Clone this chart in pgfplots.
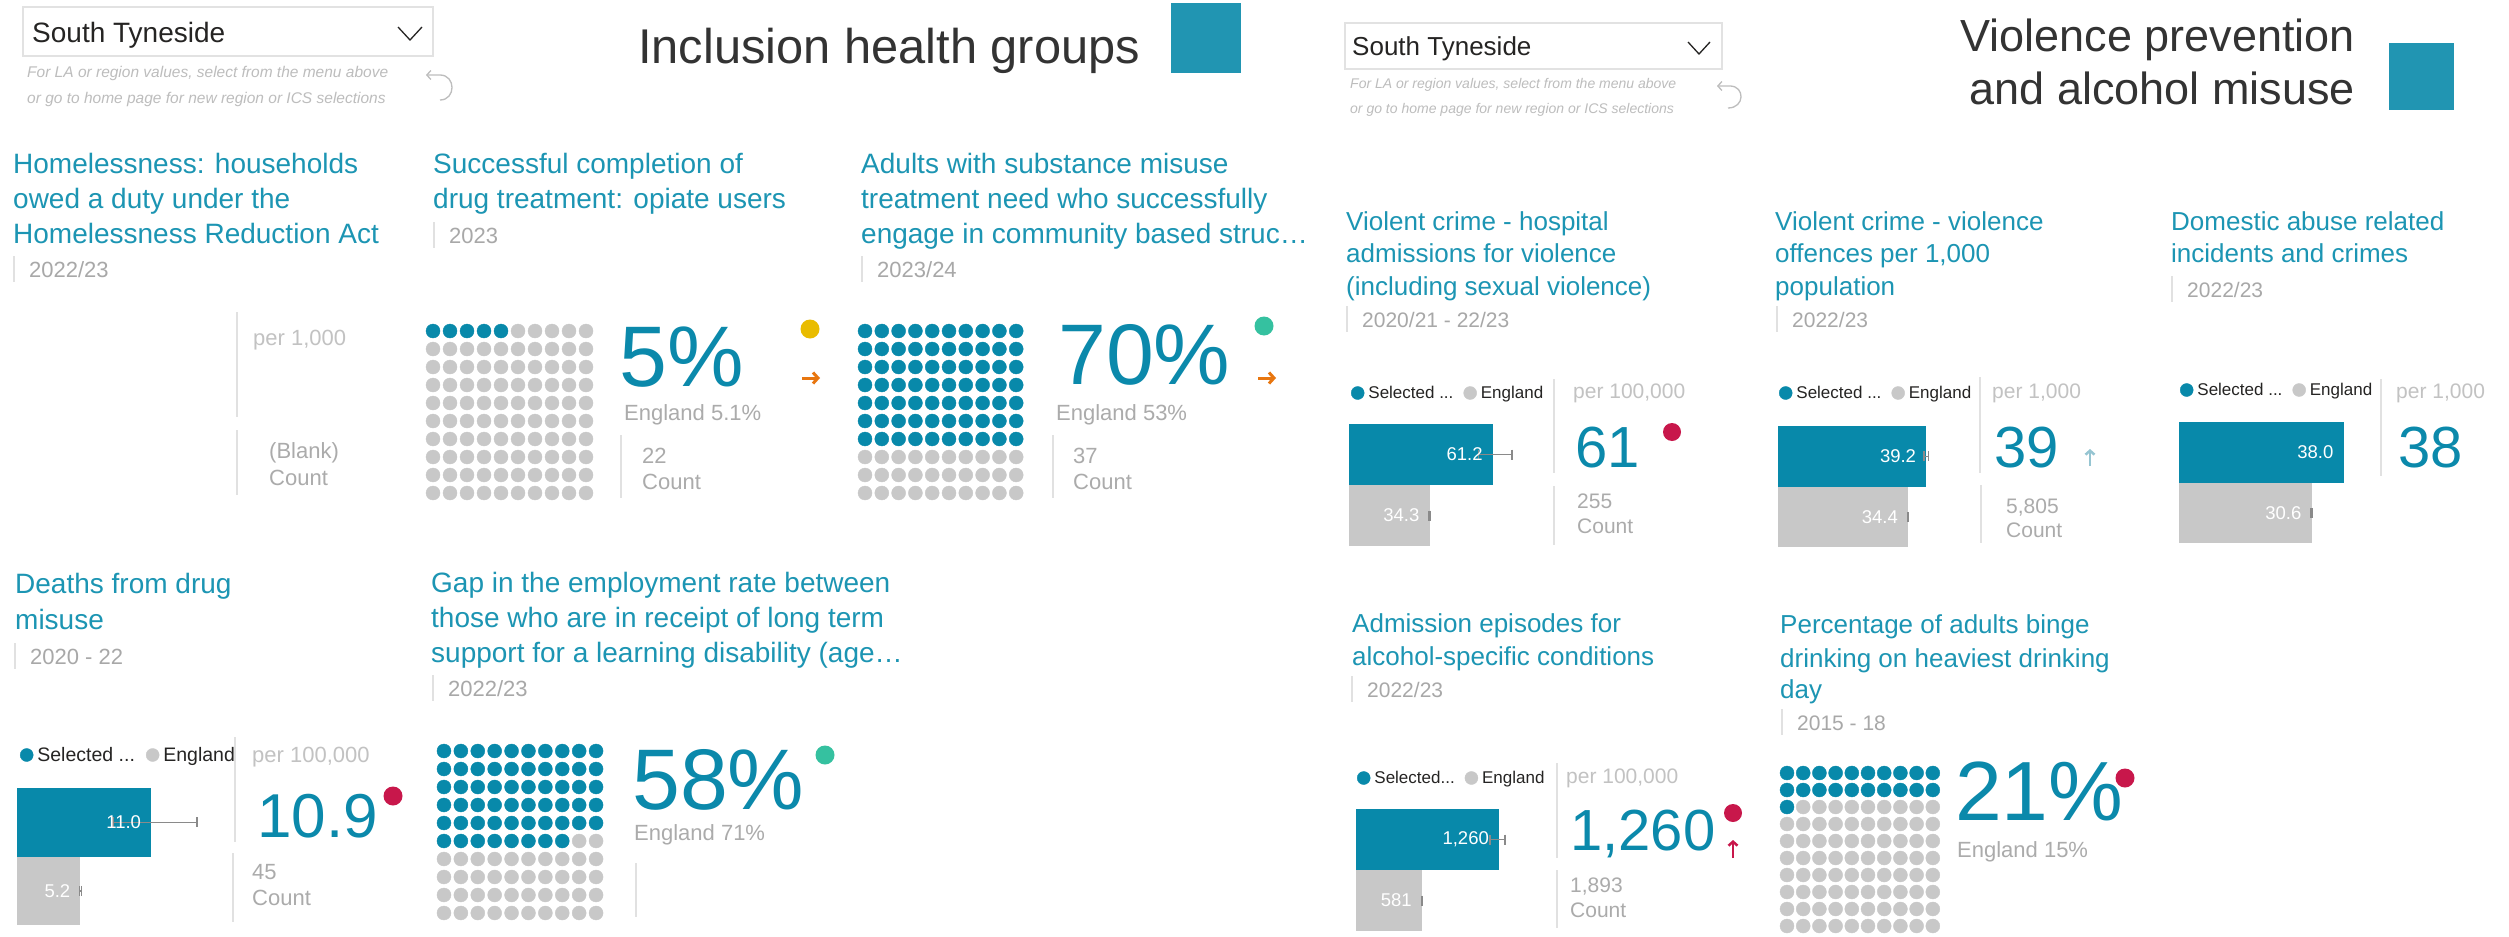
\documentclass[border=0pt]{standalone}
\usepackage{fontspec}
\setmainfont{Liberation Sans}
\usepackage{pgfplots}
\pgfplotsset{compat=1.18}
\usetikzlibrary{arrows.meta}

\definecolor{ttl}{HTML}{1C95B3}
\definecolor{selc}{HTML}{0889AA}
\definecolor{engc}{HTML}{C8C8C8}
\definecolor{bignum}{HTML}{0B89AB}
\definecolor{dtc}{HTML}{A8A8A8}
\definecolor{perc}{HTML}{C2C2C2}
\definecolor{cntc}{HTML}{ABABAB}
\definecolor{divc}{HTML}{E1E1E1}
\definecolor{hintc}{HTML}{BDBDBD}
\definecolor{boxc}{HTML}{E2E2E2}
\definecolor{darkt}{HTML}{333333}
\definecolor{legt}{HTML}{252423}
\definecolor{sq}{HTML}{2195B2}
\definecolor{redc}{HTML}{C8174B}
\definecolor{yelc}{HTML}{E9BC00}
\definecolor{grnc}{HTML}{35C1A0}
\definecolor{orac}{HTML}{E8760F}
\definecolor{upc}{HTML}{96C5D2}
\definecolor{ebc}{HTML}{8A8A8A}

\newcommand\fs[1]{\fontsize{#1}{#1}\selectfont}

\pgfplotsset{
  waffle/.style={hide axis, scale only axis, anchor=north west,
    xmin=-0.5, xmax=9.5, ymin=-0.5, ymax=9.5, y dir=reverse, clip=false},
  wsel/.style={only marks, mark=*, mark size=7pt, color=selc},
  weng/.style={only marks, mark=*, mark size=7pt, color=engc},
  barax/.style={hide axis, scale only axis, anchor=north west, width=200pt,
    xmin=0, ymin=0, ymax=2, clip=false, legend columns=-1,
    legend style={draw=none, fill=none, inner sep=0pt, outer sep=0pt,
      at={(0,1)}, anchor=west, font=\fs{#1}, legend cell align=left,
      /tikz/every odd column/.style={column sep=3pt},
      /tikz/every even column/.style={column sep=10pt},
      nodes={inner sep=1pt, text=legt}}},
  rleg/.style={legend style={/tikz/every even column/.style={column sep=9pt}}},
  selbar/.style={xbar, bar shift=0pt, bar width=1, fill=selc, draw=none},
  engbar/.style={xbar, bar shift=0pt, bar width=1, fill=engc, draw=none},
  ebar/.style={error bars/.cd, x dir=both, x explicit, error mark=|,
    error bar style={draw=ebc, line width=1.5pt},
    error mark options={draw=ebc, line width=1.3pt, mark size=5pt}},
}
\tikzset{
  blab/.style={anchor=east, xshift=-10pt, inner sep=0pt, text=white, font=\fs{18.5}},
  tx/.style={anchor=base west, inner sep=0pt},
}
\newcommand\leg[1]{%
  \addlegendimage{legend image code/.code={\fill[selc] (0pt,0pt) circle (6.5pt);}}
  \addlegendentry{#1}
  \addlegendimage{legend image code/.code={\fill[engc] (0pt,0pt) circle (6.5pt);}}
  \addlegendentry{England}}
% title line, date line with its bar
\newcommand\ttl[4]{\node[tx, text=ttl, font=\fs{#1}] at (#2,#3) {#4};}
\newcommand\dte[4]{\draw[divc, line width=2pt] (#2,#3-21) -- (#2,#3+5);
  \node[tx, text=dtc, font=\fs{#1}] at (#2+15,#3) {#4};}

\begin{document}
\begin{tikzpicture}
\fill[white] (0pt,0pt) rectangle (2509pt,-937pt);

\begin{scope}[x=1pt, y=-1pt]
% ---- left header
\draw[boxc, line width=1.5pt] (23,7) rectangle (433,56);
\node[tx, text=legt, font=\fs{28}] at (32,42) {South Tyneside};
\draw[legt, line width=1.3pt] (398,27) -- (410,40) -- (422,27);
\node[tx, text=hintc, font=\fs{15.5}\itshape] at (27,77) {For LA or region values, select from the menu above};
\node[tx, text=hintc, font=\fs{15.5}\itshape] at (27,103) {or go to home page for new region or ICS selections};
\draw[hintc, line width=1.3pt, -{Straight Barb[length=4pt,width=9pt]}] (440,100) .. controls (456,100) and (456,75) .. (440,75) -- (426,75);
\node[tx, text=darkt, font=\fs{48.8}] at (638,63) {Inclusion health groups};
\fill[sq] (1171,3) rectangle (1241,73);

% ---- right header
\draw[boxc, line width=1.5pt] (1345,23) rectangle (1722,69);
\node[tx, text=legt, font=\fs{26}] at (1352,55) {South Tyneside};
\draw[legt, line width=1.3pt] (1688,42) -- (1699,54) -- (1710,42);
\node[tx, text=hintc, font=\fs{14}\itshape] at (1350,88) {For LA or region values, select from the menu above};
\node[tx, text=hintc, font=\fs{14}\itshape] at (1350,113) {or go to home page for new region or ICS selections};
\draw[hintc, line width=1.3pt, -{Straight Barb[length=4pt,width=9pt]}] (1728,108) .. controls (1745,108) and (1745,86) .. (1730,86) -- (1717,86);
\node[anchor=base east, inner sep=0pt, text=darkt, font=\fs{45}] at (2355,51) {Violence prevention};
\node[anchor=base east, inner sep=0pt, text=darkt, font=\fs{45}] at (2355,104) {and alcohol misuse};
\fill[sq] (2389,43) rectangle (2454,110);

% ---- homelessness
\ttl{28}{13}{173}{Homelessness: households}
\ttl{28}{13}{208}{owed a duty under the}
\ttl{28}{13}{243}{Homelessness Reduction Act}
\dte{22}{14}{277}{2022/23}
\draw[divc, line width=2pt] (237,312) -- (237,417);
\draw[divc, line width=2pt] (237,430) -- (237,495);
\node[tx, text=perc, font=\fs{22}] at (253,345) {per 1,000};
\node[tx, text=cntc, font=\fs{22}] at (269,458) {(Blank)};
\node[tx, text=cntc, font=\fs{22}] at (269,485) {Count};

% ---- opiate users
\ttl{28}{433}{173}{Successful completion of}
\ttl{28}{433}{208}{drug treatment: opiate users}
\dte{22}{434}{243}{2023}
\node[tx, text=bignum, font=\fs{86}] at (619,386) {5\%};
\node[tx, text=cntc, font=\fs{22}] at (624,420) {England 5.1\%};
\draw[divc, line width=2pt] (621,435) -- (621,498);
\node[tx, text=cntc, font=\fs{22}] at (642,463) {22};
\node[tx, text=cntc, font=\fs{22}] at (642,489) {Count};
\fill[yelc] (810,329) circle (9.5pt);
\draw[orac, line width=3pt, -{Straight Barb[length=5pt,width=11pt]}] (802,378) -- (820,378);

% ---- community based treatment
\ttl{28}{861}{173}{Adults with substance misuse}
\ttl{28}{861}{208}{treatment need who successfully}
\ttl{28}{861}{243}{engage in community based struc…}
\dte{22}{862}{277}{2023/24}
\node[tx, text=bignum, font=\fs{86}] at (1058,384) {70\%};
\node[tx, text=cntc, font=\fs{22}] at (1056,420) {England 53\%};
\draw[divc, line width=2pt] (1053,435) -- (1053,498);
\node[tx, text=cntc, font=\fs{22}] at (1073,463) {37};
\node[tx, text=cntc, font=\fs{22}] at (1073,489) {Count};
\fill[grnc] (1264,326) circle (9.5pt);
\draw[orac, line width=3pt, -{Straight Barb[length=5pt,width=11pt]}] (1258,378) -- (1276,378);

% ---- deaths from drug misuse
\ttl{28}{15}{593}{Deaths from drug}
\ttl{28}{15}{629}{misuse}
\dte{22}{15}{664}{2020 - 22}
\draw[divc, line width=2pt] (235,737) -- (235,842);
\draw[divc, line width=2pt] (233,853) -- (233,922);
\node[tx, text=perc, font=\fs{22}] at (252,762) {per 100,000};
\node[tx, text=bignum, font=\fs{62}] at (257,837) {10.9};
\fill[redc] (393,796) circle (9.5pt);
\node[tx, text=cntc, font=\fs{22}] at (252,879) {45};
\node[tx, text=cntc, font=\fs{22}] at (252,905) {Count};

% ---- employment gap
\ttl{28}{431}{592}{Gap in the employment rate between}
\ttl{28}{431}{627}{those who are in receipt of long term}
\ttl{28}{431}{662}{support for a learning disability (age…}
\dte{22}{433}{696}{2022/23}
\node[tx, text=bignum, font=\fs{86}] at (632,809) {58\%};
\node[tx, text=cntc, font=\fs{22}] at (634,840) {England 71\%};
\draw[divc, line width=2pt] (636,863) -- (636,917);
\fill[grnc] (825,755) circle (9.5pt);

% ---- violent crime hospital admissions
\ttl{26}{1346}{230}{Violent crime - hospital}
\ttl{26}{1346}{262}{admissions for violence}
\ttl{26}{1346}{295}{(including sexual violence)}
\dte{21}{1347}{327}{2020/21 - 22/23}
\draw[divc, line width=2pt] (1554,379) -- (1554,473);
\draw[divc, line width=2pt] (1554,486) -- (1554,545);
\node[tx, text=perc, font=\fs{21}] at (1573,398) {per 100,000};
\node[tx, text=bignum, font=\fs{58}] at (1575,467) {61};
\fill[redc] (1672,432) circle (9pt);
\node[tx, text=cntc, font=\fs{21}] at (1577,508) {255};
\node[tx, text=cntc, font=\fs{21}] at (1577,533) {Count};

% ---- violence offences
\ttl{26}{1775}{230}{Violent crime - violence}
\ttl{26}{1775}{262}{offences per 1,000}
\ttl{26}{1775}{295}{population}
\dte{21}{1777}{327}{2022/23}
\draw[divc, line width=2pt] (1980,377) -- (1980,473);
\draw[divc, line width=2pt] (1981,485) -- (1981,543);
\node[tx, text=perc, font=\fs{21}] at (1992,398) {per 1,000};
\node[tx, text=bignum, font=\fs{58}] at (1994,467) {39};
\draw[upc, line width=2.5pt, -{Straight Barb[length=4pt,width=9pt]}] (2090,466) -- (2090,449);
\node[tx, text=cntc, font=\fs{21}] at (2006,513) {5,805};
\node[tx, text=cntc, font=\fs{21}] at (2006,537) {Count};

% ---- domestic abuse
\ttl{26}{2171}{230}{Domestic abuse related}
\ttl{26}{2171}{262}{incidents and crimes}
\dte{21}{2172}{297}{2022/23}
\draw[divc, line width=2pt] (2381,379) -- (2381,476);
\node[tx, text=perc, font=\fs{21}] at (2396,398) {per 1,000};
\node[tx, text=bignum, font=\fs{58}] at (2398,467) {38};

% ---- alcohol admissions
\ttl{26}{1352}{632}{Admission episodes for}
\ttl{26}{1352}{665}{alcohol-specific conditions}
\dte{21}{1352}{697}{2022/23}
\draw[divc, line width=2pt] (1557,763) -- (1557,858);
\draw[divc, line width=2pt] (1557,870) -- (1557,928);
\node[tx, text=perc, font=\fs{21}] at (1566,783) {per 100,000};
\node[tx, text=bignum, font=\fs{58}] at (1570,850) {1,260};
\fill[redc] (1733,813) circle (9pt);
\draw[redc, line width=2.5pt, -{Straight Barb[length=4pt,width=9pt]}] (1733,858) -- (1733,840);
\node[tx, text=cntc, font=\fs{21}] at (1570,892) {1,893};
\node[tx, text=cntc, font=\fs{21}] at (1570,917) {Count};

% ---- binge drinking
\ttl{26}{1780}{633}{Percentage of adults binge}
\ttl{26}{1780}{667}{drinking on heaviest drinking}
\ttl{26}{1780}{698}{day}
\dte{21}{1782}{730}{2015 - 18}
\node[tx, text=bignum, font=\fs{84}] at (1955,820) {21\%};
\node[tx, text=cntc, font=\fs{22}] at (1957,857) {England 15\%};
\fill[redc] (2125,778) circle (9.5pt);
\end{scope}

% ================= waffle charts =================
% opiate users 5%
\begin{axis}[waffle, at={(424.5pt,-322pt)}, width=170pt, height=180pt]
\addplot[wsel] coordinates {(0,0) (1,0) (2,0) (3,0) (4,0)};
\addplot[weng] coordinates {
(5,0) (6,0) (7,0) (8,0) (9,0)
(0,1) (1,1) (2,1) (3,1) (4,1) (5,1) (6,1) (7,1) (8,1) (9,1)
(0,2) (1,2) (2,2) (3,2) (4,2) (5,2) (6,2) (7,2) (8,2) (9,2)
(0,3) (1,3) (2,3) (3,3) (4,3) (5,3) (6,3) (7,3) (8,3) (9,3)
(0,4) (1,4) (2,4) (3,4) (4,4) (5,4) (6,4) (7,4) (8,4) (9,4)
(0,5) (1,5) (2,5) (3,5) (4,5) (5,5) (6,5) (7,5) (8,5) (9,5)
(0,6) (1,6) (2,6) (3,6) (4,6) (5,6) (6,6) (7,6) (8,6) (9,6)
(0,7) (1,7) (2,7) (3,7) (4,7) (5,7) (6,7) (7,7) (8,7) (9,7)
(0,8) (1,8) (2,8) (3,8) (4,8) (5,8) (6,8) (7,8) (8,8) (9,8)
(0,9) (1,9) (2,9) (3,9) (4,9) (5,9) (6,9) (7,9) (8,9) (9,9)};
\end{axis}

% community treatment 70%
\begin{axis}[waffle, at={(856.6pt,-322pt)}, width=168pt, height=180pt]
\addplot[wsel] coordinates {
(0,0) (1,0) (2,0) (3,0) (4,0) (5,0) (6,0) (7,0) (8,0) (9,0)
(0,1) (1,1) (2,1) (3,1) (4,1) (5,1) (6,1) (7,1) (8,1) (9,1)
(0,2) (1,2) (2,2) (3,2) (4,2) (5,2) (6,2) (7,2) (8,2) (9,2)
(0,3) (1,3) (2,3) (3,3) (4,3) (5,3) (6,3) (7,3) (8,3) (9,3)
(0,4) (1,4) (2,4) (3,4) (4,4) (5,4) (6,4) (7,4) (8,4) (9,4)
(0,5) (1,5) (2,5) (3,5) (4,5) (5,5) (6,5) (7,5) (8,5) (9,5)
(0,6) (1,6) (2,6) (3,6) (4,6) (5,6) (6,6) (7,6) (8,6) (9,6)};
\addplot[weng] coordinates {
(0,7) (1,7) (2,7) (3,7) (4,7) (5,7) (6,7) (7,7) (8,7) (9,7)
(0,8) (1,8) (2,8) (3,8) (4,8) (5,8) (6,8) (7,8) (8,8) (9,8)
(0,9) (1,9) (2,9) (3,9) (4,9) (5,9) (6,9) (7,9) (8,9) (9,9)};
\end{axis}

% employment gap 58%
\begin{axis}[waffle, at={(435.5pt,-742pt)}, width=169pt, height=180pt]
\addplot[wsel] coordinates {
(0,0) (1,0) (2,0) (3,0) (4,0) (5,0) (6,0) (7,0) (8,0) (9,0)
(0,1) (1,1) (2,1) (3,1) (4,1) (5,1) (6,1) (7,1) (8,1) (9,1)
(0,2) (1,2) (2,2) (3,2) (4,2) (5,2) (6,2) (7,2) (8,2) (9,2)
(0,3) (1,3) (2,3) (3,3) (4,3) (5,3) (6,3) (7,3) (8,3) (9,3)
(0,4) (1,4) (2,4) (3,4) (4,4) (5,4) (6,4) (7,4) (8,4) (9,4)
(0,5) (1,5) (2,5) (3,5) (4,5) (5,5) (6,5) (7,5)};
\addplot[weng] coordinates {
(8,5) (9,5)
(0,6) (1,6) (2,6) (3,6) (4,6) (5,6) (6,6) (7,6) (8,6) (9,6)
(0,7) (1,7) (2,7) (3,7) (4,7) (5,7) (6,7) (7,7) (8,7) (9,7)
(0,8) (1,8) (2,8) (3,8) (4,8) (5,8) (6,8) (7,8) (8,8) (9,8)
(0,9) (1,9) (2,9) (3,9) (4,9) (5,9) (6,9) (7,9) (8,9) (9,9)};
\end{axis}

% binge drinking 21%
\begin{axis}[waffle, at={(1778.9pt,-764.5pt)}, width=162pt, height=170pt]
\addplot[wsel] coordinates {
(0,0) (1,0) (2,0) (3,0) (4,0) (5,0) (6,0) (7,0) (8,0) (9,0)
(0,1) (1,1) (2,1) (3,1) (4,1) (5,1) (6,1) (7,1) (8,1) (9,1)
(0,2)};
\addplot[weng] coordinates {
(1,2) (2,2) (3,2) (4,2) (5,2) (6,2) (7,2) (8,2) (9,2)
(0,3) (1,3) (2,3) (3,3) (4,3) (5,3) (6,3) (7,3) (8,3) (9,3)
(0,4) (1,4) (2,4) (3,4) (4,4) (5,4) (6,4) (7,4) (8,4) (9,4)
(0,5) (1,5) (2,5) (3,5) (4,5) (5,5) (6,5) (7,5) (8,5) (9,5)
(0,6) (1,6) (2,6) (3,6) (4,6) (5,6) (6,6) (7,6) (8,6) (9,6)
(0,7) (1,7) (2,7) (3,7) (4,7) (5,7) (6,7) (7,7) (8,7) (9,7)
(0,8) (1,8) (2,8) (3,8) (4,8) (5,8) (6,8) (7,8) (8,8) (9,8)
(0,9) (1,9) (2,9) (3,9) (4,9) (5,9) (6,9) (7,9) (8,9) (9,9)};
\end{axis}

% ================= bar charts =================
% deaths from drug misuse
\begin{axis}[barax=19.5, at={(17pt,-788pt)}, height=137pt, xmax=16.39,
  legend style={xshift=3pt, yshift=33pt}]
\leg{Selected ...}
\addplot[selbar, ebar] coordinates {(11.0,1.5) += (3.75,0) -= (3.13,0)};
\addplot[engbar, ebar] coordinates {(5.2,0.5) +- (0.1,0)};
\node[blab] at (axis cs:11.0,1.5) {11.0};
\node[blab] at (axis cs:5.2,0.5) {5.2};
\end{axis}

% violent crime - hospital admissions
\begin{axis}[barax=17, rleg, at={(1349pt,-424pt)}, height=122pt, xmax=85.1,
  legend style={xshift=2pt, yshift=31pt}]
\leg{Selected ...}
\addplot[selbar, ebar] coordinates {(61.2,1.5) += (8.2,0) -= (6.2,0)};
\addplot[engbar, ebar] coordinates {(34.3,0.5) +- (0.3,0)};
\node[blab] at (axis cs:61.2,1.5) {61.2};
\node[blab] at (axis cs:34.3,0.5) {34.3};
\end{axis}

% violence offences
\begin{axis}[barax=17, rleg, at={(1778pt,-426pt)}, height=121pt, xmax=52.9,
  legend style={xshift=1pt, yshift=33pt}]
\leg{Selected ...}
\addplot[selbar, ebar] coordinates {(39.2,1.5) +- (0.6,0)};
\addplot[engbar, ebar] coordinates {(34.4,0.5) +- (0.1,0)};
\node[blab] at (axis cs:39.2,1.5) {39.2};
\node[blab] at (axis cs:34.4,0.5) {34.4};
\end{axis}

% domestic abuse
\begin{axis}[barax=17, rleg, at={(2179pt,-422pt)}, height=121pt, xmax=46.19,
  legend style={xshift=1pt, yshift=32pt}]
\leg{Selected ...}
\addplot[selbar] coordinates {(38.0,1.5)};
\addplot[engbar, ebar] coordinates {(30.6,0.5) +- (0.1,0)};
\node[blab] at (axis cs:38.0,1.5) {38.0};
\node[blab] at (axis cs:30.6,0.5) {30.6};
\end{axis}

% alcohol-specific admissions
\begin{axis}[barax=17, rleg, at={(1356pt,-809pt)}, height=122pt, xmax=1762,
  legend style={xshift=1pt, yshift=31pt}]
\leg{Selected...}
\addplot[selbar, ebar] coordinates {(1260,1.5) += (53,0) -= (79,0)};
\addplot[engbar, ebar] coordinates {(581,0.5) +- (3,0)};
\node[blab] at (axis cs:1260,1.5) {1,260};
\node[blab] at (axis cs:581,0.5) {581};
\end{axis}
\end{tikzpicture}
\end{document}
